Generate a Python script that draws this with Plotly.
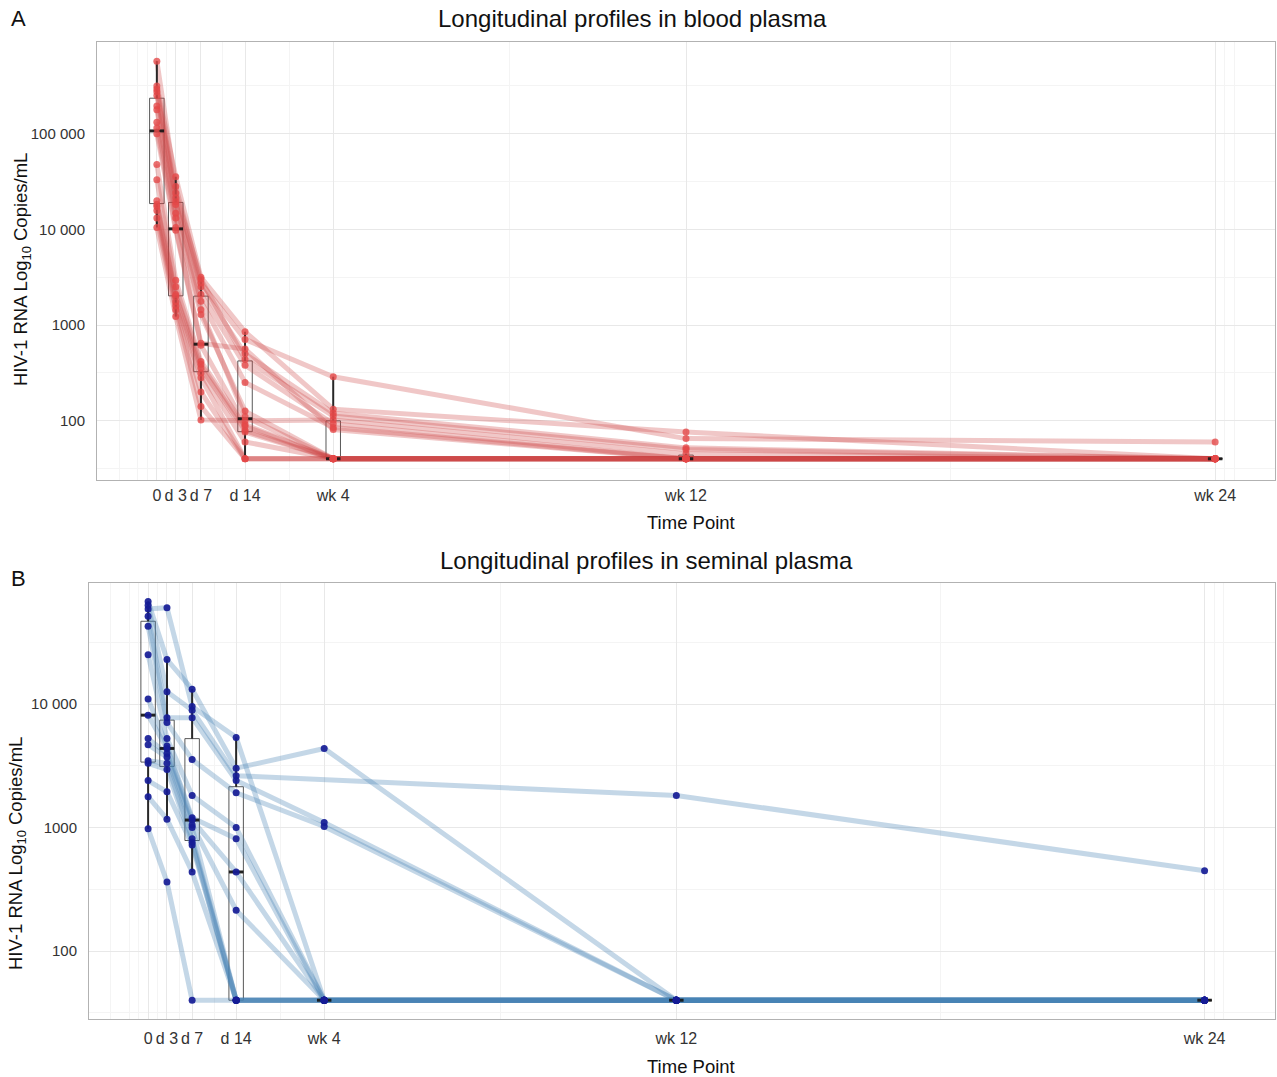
import numpy as np
import plotly.graph_objects as go

W, H = 1277, 1077

# ---------------- data ----------------
TIME_DAYS = [0, 3, 7, 14, 28, 84, 168]
TIME_LABELS = ["0", "d 3", "d 7", "d 14", "wk 4", "wk 12", "wk 24"]
LOD = 40  # limit of detection (copies/mL)

Y_TICKS_A = [100, 1000, 10000, 100000]
Y_LABELS_A = ["100", "1000", "10 000", "100 000"]
Y_TICKS_B = [100, 1000, 10000]
Y_LABELS_B = ["100", "1000", "10 000"]

# Blood plasma, one entry per participant (A1..A18), copies/mL
blood_d0 = [575000, 316000, 295000, 275000, 251000, 195000, 178000, 132000, 115000,
            100000, 47900, 33100, 20000, 18200, 17400, 15800, 13200, 10500]
blood_d3 = [28200, 35500, 24000, 21400, 19500, 18200, 14800, 13200, 10500,
            9800, 2950, 2510, 2090, 2000, 1740, 1580, 1450, 1230]
blood_d7 = [2750, 3160, 3020, 2510, 2090, 1780, 1450, 1290, 646,
            617, 417, 389, 355, 316, 282, 200, 141, 102]
blood_d14 = [708, 851, 437, 501, 380, 251, 110, 126, 562,
             91, 87, 79, 76, 60, 40, 40, 40, 100]
blood_wk4 = [288, 132, 112, 120, 93, 85, 40, 40, 81,
             40, 40, 40, 40, 40, 40, 40, 40, 102]
blood_wk12 = [65, 76, 50, 52, 40, 40, 40, 40, 40,
              40, 40, 40, 40, 40, 40, 40, 40, 45]
blood_wk24 = [60, 40, 40, 40, 40, 40, 40, 40, 40,
              40, 40, 40, 40, 40, 40, 40, 40, 40]

# Seminal plasma, one entry per participant (B1..B15), copies/mL (None = missing)
semen_d0 = [58900, 67600, 63100, 51300, 42700, 25100, 11000, 8130, 5250,
            4680, 3470, 3310, 2400, 1780, 977]
semen_d3 = [60300, 22900, 12600, 7760, 7080, 5250, 4570, 4370, 3980,
            3720, 3310, 2950, 1950, 1170, 363]
semen_d7 = [9550, 13200, 8910, 7760, 3550, 1820, 1200, 1150, 1050,
            1000, 813, 759, 724, 437, 40]
semen_d14 = [5370, 3020, 2630, 2400, 1910, 1000, 813, 437, 214,
             40, 40, 40, 40, 40, 40]
semen_wk4 = [40, 4370, None, 1100, 1020, 40, 40, 40, 40,
             40, 40, 40, 40, 40, 40]
semen_wk12 = [40, 40, 1820, 40, 40, 40, 40, 40, 40,
              40, 40, 40, 40, 40, 40]
semen_wk24 = [40, 40, 447, 40, 40, 40, 40, 40, 40,
              40, 40, 40, 40, 40, 40]

blood_cols = [blood_d0, blood_d3, blood_d7, blood_d14, blood_wk4, blood_wk12, blood_wk24]
semen_cols = [semen_d0, semen_d3, semen_d7, semen_d14, semen_wk4, semen_wk12, semen_wk24]

# ---------------- styling ----------------
FONT = "Liberation Sans, Arial, Helvetica, sans-serif"
BOX_W = 2.3


def px(x):
    return x / W


def py(y):
    return 1 - y / H


def box_stats(cols):
    q1s, meds, q3s, lo, hi = [], [], [], [], []
    for col in cols:
        v = np.log10([c for c in col if c is not None])
        q1, med, q3 = np.percentile(v, [25, 50, 75])
        iqr = q3 - q1
        lw = v[v >= q1 - 1.5 * iqr].min()
        uw = v[v <= q3 + 1.5 * iqr].max()
        q1s.append(10 ** q1); meds.append(10 ** med); q3s.append(10 ** q3)
        lo.append(10 ** lw); hi.append(10 ** uw)
    return q1s, meds, q3s, lo, hi


def add_panel(fig, cols, xa, ya, line_col, pt_col):
    xref = "x" if xa == "xaxis" else "x2"
    yref = "y" if ya == "yaxis" else "y2"
    n = len(cols[0])
    # participant trajectories
    for i in range(n):
        xs = [t for t, col in zip(TIME_DAYS, cols) if col[i] is not None]
        ys = [col[i] for col in cols if col[i] is not None]
        fig.add_trace(go.Scatter(x=xs, y=ys, mode="lines", xaxis=xref, yaxis=yref,
                                 line=dict(color=line_col, width=5), showlegend=False,
                                 hoverinfo="skip"))
    # boxplots
    q1s, meds, q3s, lo, hi = box_stats(cols)
    fig.add_trace(go.Box(x=TIME_DAYS, q1=q1s, median=meds, q3=q3s, lowerfence=lo,
                         upperfence=hi, width=BOX_W, xaxis=xref, yaxis=yref,
                         line=dict(color="rgba(70,70,70,0.9)", width=1),
                         fillcolor="rgba(0,0,0,0)", whiskerwidth=0,
                         boxpoints=False, showlegend=False, hoverinfo="skip"))
    wx, wy = [], []
    mx, my = [], []
    for t, a, b, c, d, m in zip(TIME_DAYS, lo, q1s, q3s, hi, meds):
        wx += [t, t, None, t, t, None]
        wy += [a, b, None, c, d, None]
        mx += [t - BOX_W / 2, t + BOX_W / 2, None]
        my += [m, m, None]
    fig.add_trace(go.Scatter(x=wx, y=wy, mode="lines", xaxis=xref, yaxis=yref,
                             line=dict(color="rgba(30,30,30,0.9)", width=2),
                             showlegend=False, hoverinfo="skip"))
    fig.add_trace(go.Scatter(x=mx, y=my, mode="lines", xaxis=xref, yaxis=yref,
                             line=dict(color="rgba(20,20,20,0.9)", width=3),
                             showlegend=False, hoverinfo="skip"))
    # points
    xs, ys = [], []
    for t, col in zip(TIME_DAYS, cols):
        for v in col:
            if v is not None:
                xs.append(t); ys.append(v)
    fig.add_trace(go.Scatter(x=xs, y=ys, mode="markers", xaxis=xref, yaxis=yref,
                             marker=dict(color=pt_col, size=7, line=dict(width=0)),
                             showlegend=False, hoverinfo="skip"))


fig = go.Figure()
add_panel(fig, blood_cols, "xaxis", "yaxis", "rgba(205,70,70,0.30)", "rgba(228,72,72,0.78)")
add_panel(fig, semen_cols, "xaxis2", "yaxis2", "rgba(70,130,180,0.32)", "rgba(22,28,150,0.92)")

MINOR_X = [-6, -3, -1.5, 1.5, 5, 10.5, 21, 56, 126, 169.5, 171]
grid_major = "rgb(232,232,232)"
grid_minor = "rgb(244,244,244)"
border = "rgb(178,178,178)"
ytickfont = dict(family=FONT, size=15, color="#333333")
xtickfont = dict(family=FONT, size=16, color="#333333")


def xaxis_cfg(domain, rng, anchor, standoff):
    return dict(domain=domain, range=rng, anchor=anchor, tickmode="array",
                tickvals=TIME_DAYS, ticktext=TIME_LABELS, tickfont=xtickfont,
                ticklabelstandoff=standoff,
                showgrid=True, gridcolor=grid_major, gridwidth=1, zeroline=False,
                showline=True, mirror=True, linecolor=border, linewidth=1,
                ticks="", automargin=False,
                minor=dict(tickvals=MINOR_X, showgrid=True, gridcolor=grid_minor, gridwidth=1))


def yaxis_cfg(domain, rng, anchor, tv, tt):
    minor_vals = [10 ** 1.5, 10 ** 2.5, 10 ** 3.5, 10 ** 4.5, 10 ** 5.5]
    return dict(domain=domain, range=rng, anchor=anchor, type="log", tickmode="array",
                tickvals=tv, ticktext=tt, tickfont=ytickfont, ticklabelstandoff=8,
                showgrid=True, gridcolor=grid_major, gridwidth=1, zeroline=False,
                showline=True, mirror=True, linecolor=border, linewidth=1,
                ticks="", automargin=False,
                minor=dict(tickvals=minor_vals, showgrid=True, gridcolor=grid_minor, gridwidth=1))


fig.update_layout(
    width=W, height=H, margin=dict(l=0, r=0, t=0, b=0),
    paper_bgcolor="white", plot_bgcolor="white",
    font=dict(family=FONT, color="#111111"),
    xaxis=xaxis_cfg([px(97), px(1275)], [-9.5, 177.5], "y", 1),
    yaxis=yaxis_cfg([py(480), py(42)], [1.38, 5.96], "x", Y_TICKS_A, Y_LABELS_A),
    xaxis2=xaxis_cfg([px(89), px(1275)], [-9.4, 179.2], "y2", 5),
    yaxis2=yaxis_cfg([py(1019), py(583)], [1.45, 4.98], "x2", Y_TICKS_B, Y_LABELS_B),
)

ann = []
title_font = dict(family=FONT, size=24, color="#111111")
label_font = dict(family=FONT, size=22, color="#111111")
ann.append(dict(text="A", x=px(18), y=py(19), xref="paper", yref="paper", showarrow=False,
                font=label_font, xanchor="center", yanchor="middle"))
ann.append(dict(text="B", x=px(18), y=py(578), xref="paper", yref="paper", showarrow=False,
                font=label_font, xanchor="center", yanchor="middle"))
ann.append(dict(text="Longitudinal profiles in blood plasma", x=px(632), y=py(19),
                xref="paper", yref="paper", showarrow=False, font=title_font,
                xanchor="center", yanchor="middle"))
ann.append(dict(text="Longitudinal profiles in seminal plasma", x=px(646), y=py(560),
                xref="paper", yref="paper", showarrow=False, font=title_font,
                xanchor="center", yanchor="middle"))
axis_title_font = dict(family=FONT, size=18.5, color="#111111")
ann.append(dict(text="Time Point", x=px(691), y=py(523), xref="paper", yref="paper",
                showarrow=False, font=axis_title_font, xanchor="center", yanchor="middle"))
ann.append(dict(text="Time Point", x=px(691), y=py(1066), xref="paper", yref="paper",
                showarrow=False, font=axis_title_font, xanchor="center", yanchor="middle"))
ytitle = "HIV-1 RNA Log<sub>10</sub> Copies/mL"
ann.append(dict(text=ytitle, x=px(22), y=py(270), xref="paper", yref="paper", textangle=-90,
                showarrow=False, font=axis_title_font, xanchor="center", yanchor="middle"))
ann.append(dict(text=ytitle, x=px(17), y=py(854), xref="paper", yref="paper", textangle=-90,
                showarrow=False, font=axis_title_font, xanchor="center", yanchor="middle"))
fig.update_layout(annotations=ann)

fig.write_html("out.html", config={"displayModeBar": False},
               post_script="document.body.style.margin='0px';")
